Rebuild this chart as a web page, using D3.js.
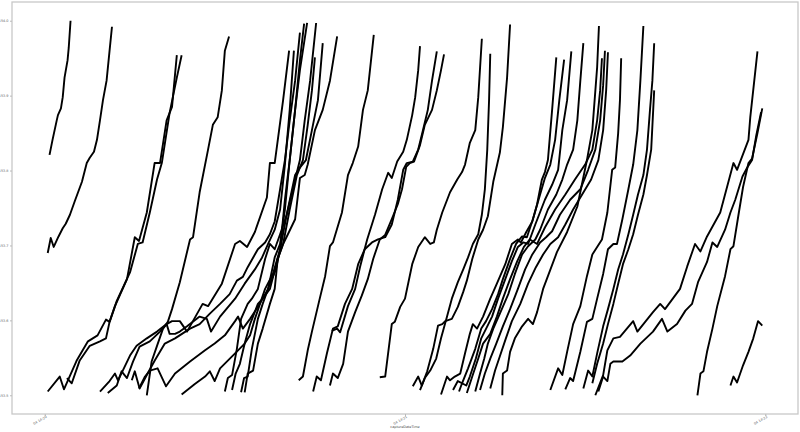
<!DOCTYPE html>
<html><head><meta charset="utf-8">
<script src="https://cdn.jsdelivr.net/npm/d3@7"></script>
<style>body{margin:0;background:#fff}svg{display:block}</style>
</head><body><svg id="c" width="800" height="432"></svg>
<script>
// seconds after 04 14:20:00, price
const line01 = [[0.8,153.821],[1.3,153.841],[2.0,153.867],[2.2,153.874],[2.7,153.883],[3.0,153.898],[3.3,153.924],[3.8,153.947],[4.0,153.964],[4.3,154.000]];
const line02 = [[0.5,153.690],[1.0,153.710],[1.5,153.698],[2.3,153.712],[3.0,153.723],[3.5,153.729],[4.2,153.741],[5.0,153.759],[6.2,153.785],[7.0,153.810],[7.5,153.817],[8.2,153.825],[8.7,153.841],[9.2,153.867],[9.7,153.894],[10.3,153.920],[10.8,153.960],[11.2,153.992]];
const line03 = [[0.5,153.505],[2.5,153.525],[3.2,153.508],[5.3,153.546],[7.2,153.572],[8.8,153.580],[10.2,153.601],[10.8,153.598],[11.7,153.619],[13.7,153.655],[15.0,153.711],[15.7,153.706],[17.0,153.744],[18.3,153.810],[19.2,153.810],[20.3,153.867],[21.2,153.885],[22.0,153.954]];
const line04 = [[3.7,153.523],[4.5,153.516],[5.8,153.546],[7.5,153.566],[9.2,153.572],[10.2,153.576],[10.8,153.598],[12.0,153.626],[14.2,153.664],[15.5,153.702],[16.3,153.704],[17.5,153.744],[18.7,153.788],[19.5,153.810],[20.8,153.877],[22.0,153.924],[22.8,153.954]];
const line05 = [[17.0,153.500],[17.8,153.545],[18.7,153.566],[19.7,153.589],[20.5,153.598],[21.2,153.615],[22.5,153.651],[24.2,153.708],[24.7,153.711],[25.8,153.771],[27.2,153.828],[28.0,153.861],[28.8,153.871],[29.5,153.907],[30.0,153.960],[30.7,153.979]];
const line06 = [[9.2,153.505],[10.8,153.519],[11.7,153.529],[12.2,153.520],[13.0,153.533],[14.2,153.553],[15.3,153.566],[17.0,153.576],[18.7,153.585],[20.3,153.595],[21.2,153.599],[22.5,153.599],[23.7,153.585],[26.3,153.622],[27.2,153.619],[29.5,153.649],[31.7,153.702],[32.5,153.706],[33.7,153.698],[35.0,153.718],[37.0,153.764],[37.5,153.810],[38.3,153.810],[39.7,153.894],[40.7,153.960]];
const line07 = [[10.5,153.503],[12.0,153.513],[12.8,153.532],[13.7,153.523],[14.7,153.545],[15.8,153.565],[17.5,153.572],[19.2,153.585],[20.3,153.595],[20.8,153.582],[21.7,153.582],[22.5,153.585],[23.7,153.592],[25.8,153.605],[27.0,153.602],[27.7,153.585],[29.2,153.605],[31.7,153.629],[33.3,153.649],[35.0,153.668],[36.2,153.684],[37.2,153.702],[38.3,153.721],[39.2,153.748],[40.0,153.808],[40.8,153.881],[41.5,153.960]];
const line08 = [[14.5,153.520],[15.0,153.532],[15.8,153.509],[17.0,153.527],[18.3,153.546],[20.0,153.569],[21.7,153.576],[24.2,153.589],[25.8,153.595],[27.5,153.609],[29.2,153.622],[30.8,153.635],[32.0,153.653],[33.0,153.658],[33.8,153.671],[35.5,153.695],[36.7,153.704],[37.5,153.715],[38.3,153.732],[39.2,153.775],[40.0,153.814],[40.8,153.867],[41.7,153.920],[42.5,153.984]];
const line09 = [[15.7,153.509],[16.7,153.525],[17.5,153.533],[18.8,153.536],[20.2,153.512],[21.7,153.529],[24.2,153.545],[26.7,153.560],[28.3,153.569],[30.0,153.580],[31.7,153.599],[32.2,153.605],[33.0,153.589],[34.2,153.602],[35.8,153.622],[37.2,153.642],[38.3,153.684],[39.2,153.702],[40.0,153.748],[40.8,153.814],[41.7,153.881],[42.5,153.947],[43.2,153.996]];
const line10 = [[22.8,153.501],[25.0,153.515],[26.7,153.525],[27.5,153.532],[28.3,153.519],[29.2,153.536],[31.7,153.556],[33.3,153.569],[34.2,153.580],[35.0,153.602],[36.7,153.642],[38.0,153.662],[39.2,153.695],[40.0,153.761],[40.8,153.814],[41.7,153.881],[42.5,153.934],[43.7,153.997]];
const line11 = [[30.0,153.505],[30.5,153.523],[31.2,153.527],[32.0,153.562],[32.7,153.602],[33.8,153.622],[34.5,153.629],[35.5,153.642],[36.7,153.682],[37.5,153.702],[38.3,153.695],[39.2,153.715],[40.3,153.741],[41.7,153.788],[42.5,153.814],[43.3,153.867],[44.2,153.920],[45.2,153.997]];
const line12 = [[31.2,153.507],[31.8,153.529],[32.5,153.542],[33.3,153.569],[34.2,153.595],[35.5,153.622],[36.3,153.629],[37.5,153.642],[38.8,153.682],[39.7,153.702],[40.8,153.748],[42.0,153.794],[43.0,153.814],[43.8,153.861],[44.5,153.907],[45.0,153.951]];
const line13 = [[32.7,153.504],[33.2,153.523],[33.8,153.525],[34.5,153.562],[35.5,153.602],[36.3,153.622],[37.5,153.649],[38.5,153.668],[39.2,153.695],[40.3,153.741],[41.7,153.794],[42.5,153.804],[43.5,153.814],[44.5,153.854],[45.5,153.894],[46.3,153.970]];
const line14 = [[33.3,153.504],[33.8,153.529],[34.7,153.533],[35.5,153.569],[36.3,153.589],[37.5,153.622],[38.3,153.642],[38.8,153.682],[39.7,153.702],[40.5,153.715],[41.7,153.735],[42.5,153.790],[43.3,153.794],[43.8,153.808],[45.0,153.854],[46.3,153.881],[47.5,153.920],[48.7,153.979]];
const line15 = [[42.3,153.520],[43.0,153.525],[43.8,153.560],[44.5,153.585],[45.8,153.629],[46.7,153.659],[47.5,153.699],[48.0,153.704],[49.5,153.744],[50.5,153.794],[51.3,153.810],[52.2,153.832],[53.0,153.881],[53.8,153.907],[54.8,153.981]];
const line16 = [[47.8,153.586],[48.7,153.589],[49.2,153.584],[50.5,153.619],[51.7,153.642],[52.5,153.671],[53.7,153.708],[55.0,153.741],[56.2,153.775],[57.2,153.797],[57.8,153.790],[58.7,153.812],[59.7,153.825],[60.3,153.841],[61.2,153.874],[61.7,153.898],[62.2,153.934],[62.5,153.966]];
const line17 = [[44.7,153.505],[45.3,153.525],[46.0,153.520],[47.0,153.556],[48.0,153.589],[48.8,153.592],[50.0,153.622],[51.2,153.642],[52.2,153.675],[53.3,153.695],[54.5,153.704],[55.5,153.708],[56.7,153.711],[57.8,153.728],[58.8,153.761],[59.7,153.801],[60.3,153.810],[61.3,153.812],[62.2,153.828],[63.0,153.854],[63.8,153.881],[64.5,153.920],[65.3,153.959]];
const line18 = [[47.5,153.513],[48.0,153.529],[48.8,153.523],[49.7,153.542],[50.5,153.585],[51.7,153.611],[52.8,153.633],[53.8,153.655],[54.7,153.682],[55.8,153.708],[56.7,153.714],[57.8,153.735],[58.8,153.755],[59.5,153.775],[60.2,153.805],[60.8,153.810],[61.5,153.812],[62.5,153.834],[63.3,153.861],[64.5,153.881],[65.3,153.907],[66.0,153.934],[66.5,153.955]];
const line19 = [[55.8,153.524],[56.7,153.525],[57.8,153.595],[58.3,153.598],[59.2,153.618],[60.0,153.629],[61.2,153.675],[62.2,153.698],[63.3,153.711],[64.2,153.702],[64.8,153.704],[65.3,153.721],[66.2,153.744],[67.5,153.771],[68.7,153.788],[69.5,153.798],[70.0,153.808],[70.8,153.837],[71.7,153.854],[72.2,153.898],[72.8,153.976]];
const line20 = [[61.3,153.512],[62.2,153.525],[62.8,153.513],[63.7,153.532],[64.7,153.562],[65.5,153.593],[66.2,153.595],[66.7,153.599],[67.8,153.602],[68.8,153.618],[69.7,153.638],[70.3,153.653],[71.2,153.682],[72.2,153.708],[73.0,153.721],[73.8,153.739],[74.7,153.785],[75.8,153.824],[76.3,153.858],[77.0,153.924],[77.5,153.995]];
const line21 = [[62.5,153.507],[63.3,153.523],[64.2,153.533],[65.2,153.549],[66.0,153.576],[67.0,153.605],[67.8,153.629],[68.8,153.651],[69.7,153.668],[70.5,153.684],[71.3,153.702],[72.2,153.715],[72.8,153.741],[73.3,153.775],[73.7,153.828],[74.0,153.894],[74.2,153.956]];
const line22 = [[66.0,153.501],[67.0,153.525],[67.5,153.520],[68.3,153.525],[69.2,153.529],[70.0,153.556],[70.8,153.582],[71.3,153.595],[72.0,153.589],[73.0,153.605],[74.2,153.629],[75.3,153.649],[76.7,153.675],[77.8,153.702],[78.8,153.708],[79.3,153.704],[80.2,153.718],[81.2,153.732],[82.0,153.755],[82.8,153.788],[83.3,153.798],[83.8,153.814],[84.5,153.881],[85.2,153.951]];
const line23 = [[68.0,153.507],[68.8,153.519],[69.5,153.516],[70.5,153.536],[71.7,153.562],[72.7,153.589],[73.5,153.599],[74.5,153.615],[75.5,153.635],[76.3,153.655],[77.5,153.682],[78.5,153.702],[79.5,153.712],[80.3,153.711],[81.3,153.735],[82.5,153.768],[83.3,153.790],[84.2,153.808],[85.0,153.841],[85.7,153.894],[86.5,153.948]];
const line24 = [[69.0,153.505],[69.5,153.516],[70.2,153.513],[70.8,153.525],[71.8,153.549],[72.7,153.576],[73.7,153.592],[74.5,153.605],[75.5,153.629],[76.7,153.655],[77.8,153.679],[78.8,153.698],[79.7,153.704],[80.5,153.702],[81.7,153.728],[83.3,153.761],[84.5,153.781],[85.5,153.801],[86.2,153.854],[87.0,153.894],[87.7,153.959]];
const line25 = [[71.7,153.505],[72.5,153.529],[73.2,153.549],[73.8,153.569],[74.7,153.589],[75.8,153.609],[77.2,153.635],[78.3,153.662],[79.5,153.688],[80.5,153.699],[81.7,153.708],[82.5,153.721],[83.8,153.748],[85.2,153.768],[86.2,153.788],[87.0,153.808],[88.0,153.828],[88.7,153.867],[89.2,153.920],[89.7,153.970]];
const line26 = [[76.2,153.500],[76.3,153.529],[77.0,153.533],[77.5,153.558],[78.3,153.576],[79.5,153.592],[80.5,153.602],[81.3,153.595],[82.0,153.611],[83.0,153.642],[83.8,153.659],[85.3,153.691],[87.0,153.718],[88.7,153.752],[90.3,153.814],[91.2,153.854],[92.0,153.938],[92.3,153.993]];
const line27 = [[70.3,153.503],[71.2,153.525],[72.2,153.549],[73.0,153.569],[74.2,153.582],[75.3,153.605],[76.3,153.629],[77.5,153.655],[78.7,153.679],[79.8,153.698],[80.8,153.708],[82.0,153.702],[83.3,153.724],[85.0,153.748],[86.7,153.768],[88.3,153.788],[90.0,153.808],[91.2,153.828],[92.0,153.867],[92.5,153.907],[92.8,153.950]];
const line28 = [[72.5,153.507],[73.3,153.529],[74.2,153.549],[75.2,153.569],[76.3,153.592],[77.5,153.615],[78.8,153.642],[80.0,153.668],[81.2,153.688],[82.5,153.704],[83.5,153.711],[84.5,153.719],[85.8,153.741],[87.5,153.761],[89.2,153.775],[90.5,153.801],[91.7,153.828],[92.5,153.867],[93.0,153.914],[93.3,153.960]];
const line29 = [[74.2,153.509],[75.0,153.533],[75.8,153.552],[76.8,153.576],[77.8,153.599],[79.2,153.622],[80.5,153.649],[81.8,153.671],[83.0,153.688],[84.2,153.702],[85.5,153.711],[86.7,153.728],[88.0,153.748],[89.5,153.768],[91.0,153.788],[92.2,153.814],[93.0,153.854],[93.5,153.907],[93.8,153.958]];
const line30 = [[84.2,153.507],[85.5,153.536],[86.2,153.527],[87.0,153.558],[88.0,153.595],[89.2,153.619],[90.3,153.659],[91.2,153.688],[92.0,153.698],[92.8,153.708],[93.7,153.744],[94.5,153.801],[95.0,153.804],[95.5,153.850],[95.8,153.894],[96.0,153.950]];
const line31 = [[86.7,153.508],[87.5,153.523],[88.0,153.519],[89.2,153.558],[90.3,153.598],[91.2,153.602],[92.0,153.629],[93.0,153.662],[93.8,153.695],[94.7,153.702],[95.3,153.702],[96.2,153.735],[97.2,153.775],[98.0,153.808],[98.7,153.854],[99.2,153.920],[99.7,153.993]];
const line32 = [[89.7,153.509],[90.5,153.533],[91.2,153.525],[92.0,153.556],[93.0,153.592],[93.8,153.615],[94.7,153.642],[95.5,153.668],[96.3,153.688],[97.2,153.715],[98.0,153.741],[98.8,153.768],[99.7,153.794],[100.3,153.828],[100.8,153.881],[101.2,153.920],[101.5,153.970]];
const line33 = [[91.2,153.516],[92.0,153.542],[93.0,153.569],[93.8,153.595],[94.7,153.622],[95.5,153.649],[96.3,153.675],[97.2,153.695],[98.0,153.715],[98.8,153.741],[99.7,153.768],[100.3,153.794],[101.0,153.828],[101.5,153.907]];
const line34 = [[91.7,153.500],[93.0,153.527],[93.7,153.560],[94.7,153.576],[95.8,153.578],[98.0,153.599],[98.7,153.585],[100.0,153.598],[101.3,153.611],[102.5,153.622],[103.3,153.615],[105.8,153.642],[107.0,153.672],[108.3,153.702],[109.2,153.692],[110.3,153.712],[112.5,153.744],[114.7,153.810],[115.3,153.801],[117.2,153.841],[117.5,153.871],[118.7,153.959]];
const line35 = [[92.2,153.505],[93.0,153.525],[93.7,153.519],[94.2,153.542],[94.7,153.545],[96.2,153.545],[97.5,153.553],[99.2,153.569],[101.3,153.585],[102.8,153.602],[103.7,153.585],[105.3,153.595],[106.7,153.613],[107.8,153.622],[108.8,153.651],[110.3,153.678],[111.2,153.704],[112.0,153.698],[113.3,153.721],[114.2,153.744],[115.0,153.761],[116.2,153.792],[117.0,153.804],[117.8,153.814],[118.5,153.847],[119.3,153.878]];
const line36 = [[108.7,153.500],[109.2,153.529],[109.7,153.532],[110.3,153.558],[111.2,153.589],[112.0,153.619],[113.3,153.659],[114.2,153.695],[114.7,153.699],[115.5,153.739],[116.3,153.778],[117.2,153.810],[117.8,153.816],[118.7,153.850],[119.5,153.883]];
const line37 = [[114.2,153.513],[114.7,153.525],[115.3,153.517],[116.3,153.540],[117.2,153.558],[118.0,153.576],[118.8,153.599],[119.5,153.593]];

const seriesList = [line01,line02,line03,line04,line05,line06,line07,line08,line09,line10,line11,line12,line13,line14,line15,line16,line17,line18,line19,line20,line21,line22,line23,line24,line25,line26,line27,line28,line29,line30,line31,line32,line33,line34,line35,line36,line37];
const yTickValues = [153.5, 153.6, 153.7, 153.8, 153.9, 154.0];
const xAxisTitle = "captureDateTime";
const baseTime = new Date(2024, 0, 4, 14, 20, 0);

const svg = d3.select("#c");
const L = 12, R = 798, T = 2, B = 414;

const toDate = s => new Date(baseTime.getTime() + s * 1000);
const allT = seriesList.flat().map(d => d[0]);
const allP = seriesList.flat().map(d => d[1]);
const tMin = d3.min(allT), tMax = d3.max(allT);
const pMin = d3.min(allP), pMax = d3.max(allP);
const tPad = (tMax - tMin) * 0.05, pPad = (pMax - pMin) * 0.05;

const x = d3.scaleTime().domain([toDate(tMin - tPad), toDate(tMax + tPad)]).range([L, R]);
const y = d3.scaleLinear().domain([pMin - pPad, pMax + pPad]).range([B, T]);

const line = d3.line().x(d => x(toDate(d[0]))).y(d => y(d[1]));
svg.append("g").selectAll("path").data(seriesList).join("path")
  .attr("d", line).attr("fill", "none").attr("stroke", "#000")
  .attr("stroke-width", 1.9).attr("stroke-linejoin", "round");

// frame
svg.append("rect").attr("x", L).attr("y", T).attr("width", R - L).attr("height", B - T)
  .attr("fill", "none").attr("stroke", "#c8c8c8").attr("stroke-width", 1.3);

const yAxis = d3.axisLeft(y).tickValues(yTickValues).tickFormat(d3.format(".1f")).tickSize(2).tickPadding(1.5);
const gy = svg.append("g").attr("transform", `translate(${L},0)`).call(yAxis);
gy.select(".domain").remove();
gy.selectAll(".tick line").attr("stroke", "#bbb");
gy.selectAll("text").attr("font-size", 3.4).attr("fill", "#666").attr("font-family", "DejaVu Sans");

const xAxis = d3.axisBottom(x).ticks(d3.timeMinute.every(1)).tickFormat(d3.timeFormat("%d %H:%M")).tickSize(2);
const gx = svg.append("g").attr("transform", `translate(0,${B})`).call(xAxis);
gx.select(".domain").remove();
gx.selectAll(".tick line").attr("stroke", "#bbb");
gx.selectAll("text").attr("font-size", 3.4).attr("fill", "#666").attr("font-family", "DejaVu Sans")
  .attr("text-anchor", "end").attr("dy", 0).attr("y", 4).attr("x", 0)
  .attr("transform", "rotate(-30)");

svg.append("text").attr("x", (L + R) / 2).attr("y", 428).attr("text-anchor", "middle")
  .attr("font-size", 3.4).attr("fill", "#444").attr("font-family", "DejaVu Sans").text(xAxisTitle);
</script></body></html>
